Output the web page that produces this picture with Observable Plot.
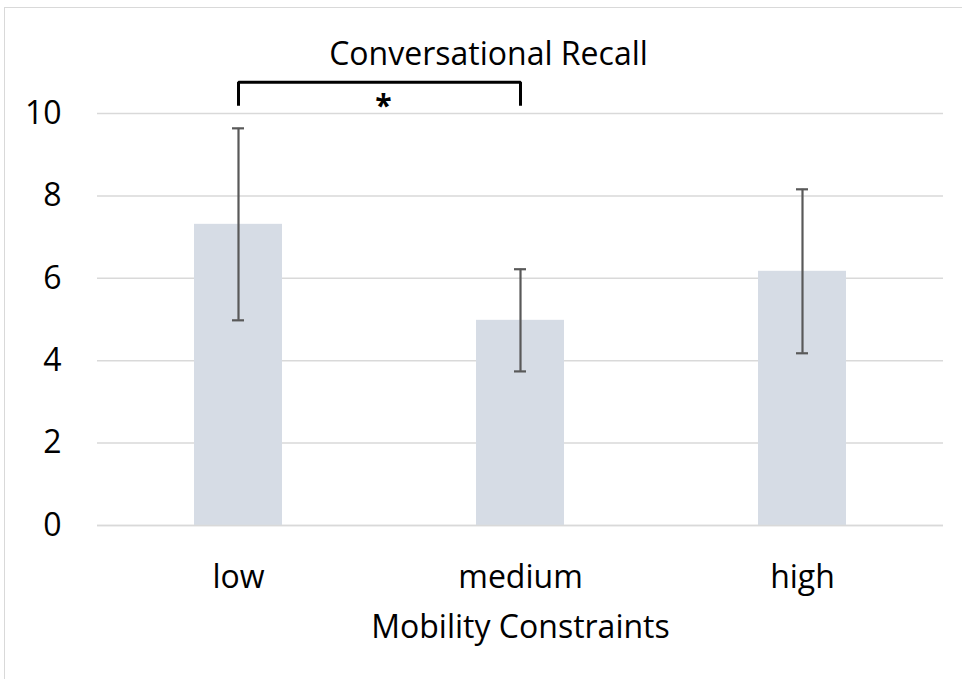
<!DOCTYPE html>
<html>
<head>
<meta charset="utf-8">
<script src="https://cdn.jsdelivr.net/npm/d3@7"></script>
<script src="https://cdn.jsdelivr.net/npm/@observablehq/plot@0.6"></script>
<style>
  html, body { margin: 0; padding: 0; background: #fff; }
  #wrap { position: relative; width: 962px; height: 679px; overflow: hidden; }
  #border { position: absolute; left: 4px; top: 7px; width: 1000px; height: 700px;
            border-left: 1.5px solid #d9d9d9; border-top: 1.5px solid #d9d9d9; box-sizing: border-box; }
  #chart { position: absolute; left: 0; top: 0; }
</style>
</head>
<body>
<div id="wrap"><div id="border"></div><div id="chart"></div></div>
<script>
const categories = ["low", "medium", "high"];
const means = [7.31, 4.98, 6.17];
const errors = [2.33, 1.24, 1.99];
const yTicks = [0, 2, 4, 6, 8, 10];
const title = "Conversational Recall";
const xLabel = "Mobility Constraints";
const bracketFrom = "low";
const bracketTo = "medium";
const bracketTop = 10.76;
const bracketBottom = 10.19;
const starLabel = "*";
const starY = 10.17;

const data = categories.map((c, i) => ({cat: c, mean: means[i], lo: means[i] - errors[i], hi: means[i] + errors[i]}));
const bracket = [
  {x: bracketFrom, y: bracketBottom},
  {x: bracketFrom, y: bracketTop},
  {x: bracketTo, y: bracketTop},
  {x: bracketTo, y: bracketBottom}
];

const font = "'Open Sans', sans-serif";
const plot = Plot.plot({
  width: 962,
  height: 679,
  marginLeft: 97,
  marginRight: 19,
  marginTop: 113,
  marginBottom: 154,
  style: {fontFamily: font, fontSize: "32px", color: "#000", background: "transparent", overflow: "visible"},
  x: {domain: categories, paddingInner: 0.688, paddingOuter: 0.344, label: null},
  y: {domain: [0, 10], label: null},
  marks: [
    Plot.gridY(yTicks, {stroke: "#d9d9d9", strokeOpacity: 1, strokeWidth: 1.5}),
    Plot.barY(data, {x: "cat", y: "mean", fill: "#d6dce5"}),
    Plot.ruleY([0], {stroke: "#d9d9d9", strokeWidth: 1.5}),
    Plot.ruleX(data, {x: "cat", y1: "lo", y2: "hi", stroke: "#595959", strokeWidth: 2.2}),
    Plot.tickY(data, {x: "cat", y: "lo", stroke: "#595959", strokeWidth: 2.2, insetLeft: 38, insetRight: 38}),
    Plot.tickY(data, {x: "cat", y: "hi", stroke: "#595959", strokeWidth: 2.2, insetLeft: 38, insetRight: 38}),
    Plot.line(bracket, {x: "x", y: "y", stroke: "#000", strokeWidth: 3, strokeLinejoin: "miter", strokeLinecap: "butt"}),
    Plot.text([starLabel], {x: () => bracketFrom, y: () => starY, dx: 145, text: d => d, fontSize: 30, fontWeight: "bold", fill: "#000"}),
    Plot.axisY(yTicks, {tickSize: 0, tickPadding: 36, fontSize: 32, fill: "#000", label: null}),
    Plot.axisX({tickSize: 0, tickPadding: 40, fontSize: 32, fill: "#000", label: null}),
    Plot.text([title], {frameAnchor: "top", dx: -32, dy: -71, text: d => d, fontSize: 32, fill: "#000"}),
    Plot.text([xLabel], {frameAnchor: "bottom", dy: 112, text: d => d, fontSize: 32, fill: "#000"})
  ]
});
document.getElementById("chart").appendChild(plot);
</script>
</body>
</html>
